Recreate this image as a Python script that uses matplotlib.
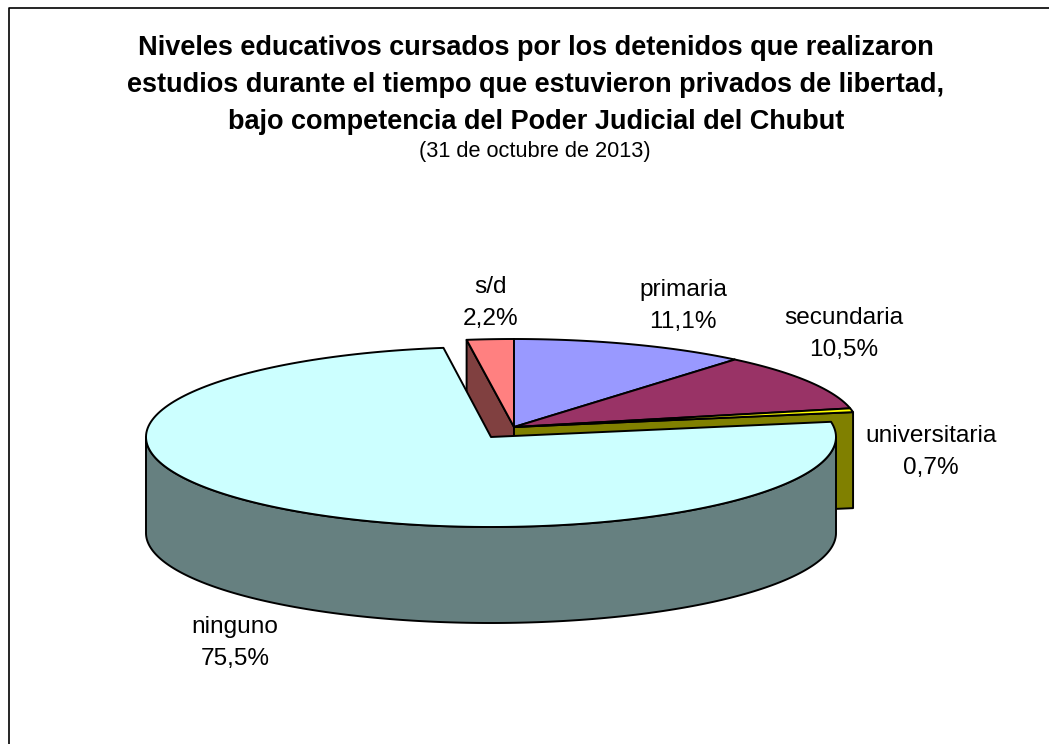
import numpy as np
import matplotlib
matplotlib.use('Agg')
import matplotlib.pyplot as plt
from matplotlib.patches import Polygon

plt.rcParams['font.family'] = ['Liberation Sans', 'DejaVu Sans']

# --- Data
categories = ['primaria', 'secundaria', 'universitaria', 'ninguno', 's/d']
values = [11.1, 10.5, 0.7, 75.5, 2.2]
value_labels = ['11,1%', '10,5%', '0,7%', '75,5%', '2,2%']

title_lines = [
    'Niveles educativos cursados por los detenidos que realizaron',
    'estudios durante el tiempo que estuvieron privados de libertad,',
    'bajo competencia del Poder Judicial del Chubut',
]
subtitle = '(31 de octubre de 2013)'

# --- Style
top_colors = ['#9999FF', '#993366', '#FFFF00', '#CCFFFF', '#FF8080']
side_colors = ['#4C4C80', '#4C1933', '#808000', '#668080', '#804040']
label_pos = [(683, 306), (844, 334), (931, 452), (235, 643), (491, 303)]

CX, CY = 514, 427      # pie centre in pixels
RX, RY = 344, 88       # ellipse radii
DEPTH = 96
EXPLODED = 3           # ninguno is pulled out of the pie
EX_OFFSET = (-23, 10)
EX_RX, EX_RY = 345, 90


def arc(cx, cy, rx, ry, a0, a1):
    # angles in degrees, clockwise from 12 o'clock
    t = np.radians(np.linspace(a0, a1, 200))
    return np.column_stack([cx + rx * np.sin(t), cy - ry * np.cos(t)])


def add_poly(ax, pts, color, z):
    ax.add_patch(Polygon(pts, closed=True, facecolor=color, edgecolor='black',
                         linewidth=1.4, joinstyle='round', zorder=z))


def main():
    fig = plt.figure(figsize=(10.49, 7.44), dpi=100)
    ax = fig.add_axes([0, 0, 1, 1])
    ax.set_xlim(0, 1049)
    ax.set_ylim(744, 0)
    ax.axis('off')

    # the frame only shows on the top and left sides
    ax.plot([9, 9, 1049], [744, 8, 8], color='black', linewidth=1.2, zorder=0)

    # wedge angles from the values
    edges = np.concatenate([[0], np.cumsum(values)]) / np.sum(values) * 360

    for i in [4, 0, 1, 2]:
        a0, a1 = edges[i], edges[i + 1]
        if i == 4:
            # inner face of s/d shows behind the pulled out wedge
            p = arc(CX, CY, RX, RY, a0, a0)[0]
            add_poly(ax, [p, (CX, CY), (CX, CY + DEPTH), (p[0], p[1] + DEPTH)], side_colors[i], 1)
        if i == 2:
            p = arc(CX, CY, RX, RY, a1, a1)[0]
            add_poly(ax, [p, (CX, CY), (CX, CY + DEPTH), (p[0], p[1] + DEPTH)], side_colors[i], 1)
        top = np.vstack([[(CX, CY)], arc(CX, CY, RX, RY, a0, a1)])
        add_poly(ax, top, top_colors[i], 2)

    # pulled out wedge, wall first then the top
    i = EXPLODED
    cx, cy = CX + EX_OFFSET[0], CY + EX_OFFSET[1]
    a0, a1 = edges[i], edges[i + 1]
    wall = arc(cx, cy, EX_RX, EX_RY, 90, 270)
    wall_pts = np.vstack([wall, (wall + [0, DEPTH])[::-1]])
    add_poly(ax, wall_pts, side_colors[i], 3)
    top = np.vstack([[(cx, cy)], arc(cx, cy, EX_RX, EX_RY, a0, a1)])
    add_poly(ax, top, top_colors[i], 4)

    # labels
    for name, val, (x, y) in zip(categories, value_labels, label_pos):
        ax.text(x, y, f'{name}\n{val}', ha='center', va='center', fontsize=17.6,
                linespacing=1.55, color='black', zorder=5)

    for line, y in zip(title_lines, [48, 85, 122]):
        ax.text(536, y, line, ha='center', va='center', fontsize=19.5,
                fontweight='bold', color='black', zorder=5)
    ax.text(535, 151, subtitle, ha='center', va='center', fontsize=15.7, color='black', zorder=5)

    fig.savefig('out.png', dpi=100)


if __name__ == "__main__":
    main()
